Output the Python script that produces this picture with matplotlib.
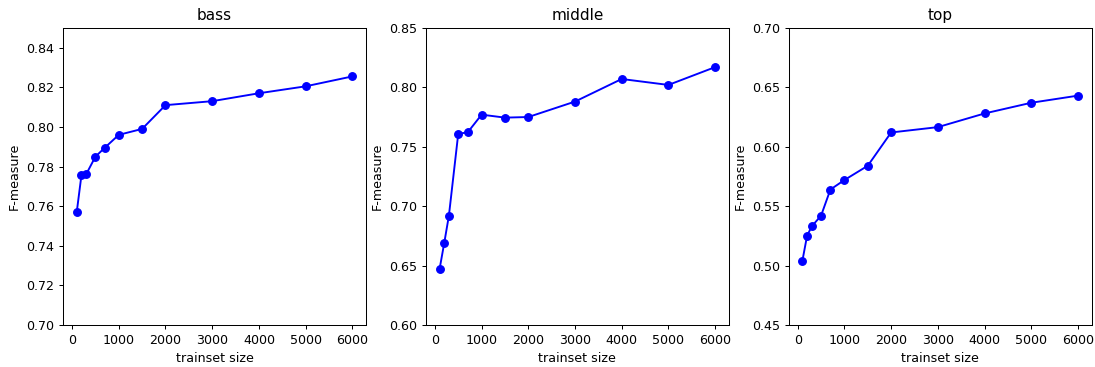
import matplotlib
matplotlib.use('Agg')
import matplotlib.pyplot as plt

# trainset sizes shared by all three panels
sizes = [100, 200, 300, 500, 700, 1000, 1500, 2000, 3000, 4000, 5000, 6000]

bass = [0.757, 0.7755, 0.776, 0.785, 0.7895, 0.796, 0.799, 0.811, 0.813, 0.817, 0.8205, 0.8255]
middle = [0.647, 0.669, 0.692, 0.761, 0.762, 0.777, 0.7745, 0.775, 0.788, 0.807, 0.802, 0.817]
top = [0.504, 0.525, 0.533, 0.542, 0.564, 0.572, 0.584, 0.612, 0.6165, 0.628, 0.637, 0.643]

titles = ['bass', 'middle', 'top']
series = [bass, middle, top]
ylims = [(0.70, 0.85), (0.60, 0.85), (0.45, 0.70)]
yticks = [[0.70, 0.72, 0.74, 0.76, 0.78, 0.80, 0.82, 0.84],
          [0.60, 0.65, 0.70, 0.75, 0.80, 0.85],
          [0.45, 0.50, 0.55, 0.60, 0.65, 0.70]]
xticks = [0, 1000, 2000, 3000, 4000, 5000, 6000]

dpi = 91.25
fig, axes = plt.subplots(1, 3, figsize=(1095 / dpi, 367 / dpi), dpi=dpi)
fig.subplots_adjust(left=0.0575, right=0.997, top=0.924, bottom=0.1144, wspace=0.197)

for ax, name, vals, ylim, yt in zip(axes, titles, series, ylims, yticks):
    ax.plot(sizes, vals, 'o-', color='blue')
    ax.set_title(name, fontsize=12)
    ax.set_ylim(*ylim)
    ax.set_yticks(yt)
    ax.set_xticks(xticks)
    ax.set_xlabel('trainset size')
    ax.set_ylabel('F-measure')

plt.savefig('out.png', dpi=dpi)
